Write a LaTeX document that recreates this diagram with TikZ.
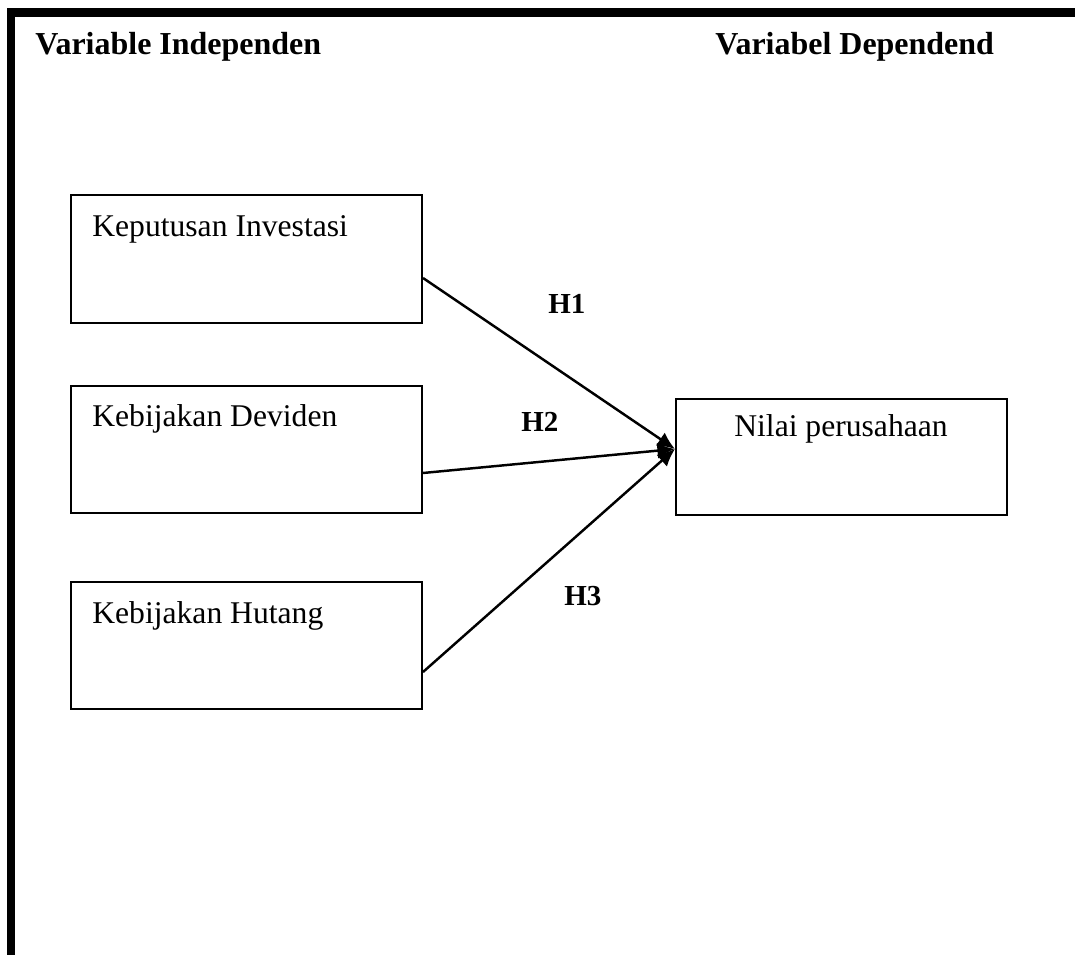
\documentclass[tikz,border=0pt]{standalone}
\usepackage{fontspec}
\setmainfont{Liberation Serif}
\usetikzlibrary{arrows.meta,calc}

\begin{document}
\begin{tikzpicture}[x=0.02cm,y=-0.02cm,>={Latex[length=10pt,width=9pt]},
                    var box/.style={rectangle,draw,line width=1.2pt,minimum width=7.02cm,minimum height=2.55cm},
                    box text/.style={anchor=base west,inner sep=0pt,font=\fontsize{18}{22}\selectfont},
                    head text/.style={anchor=base west,inner sep=0pt,font=\fontsize{18.2}{22}\selectfont\bfseries},
                    hyp/.style={anchor=base west,inner sep=0pt,font=\fontsize{16.5}{20}\selectfont\bfseries}]

  \useasboundingbox (0,0) rectangle (1075,955);

  % frame (top and left only)
  \draw[line width=4.8pt] (11,955) -- (11,12.5) -- (1075,12.5);

  \node[head text] (indep) at (35,55) {Variable Independen};
  \node[head text] (dep) at (715,55) {Variabel Dependend};

  \node[var box] (k1) at (246.5,259) {};
  \node[var box] (k2) at (246.5,449.5) {};
  \node[var box] (k3) at (246.5,645.5) {};
  \node[var box,minimum width=6.62cm,minimum height=2.32cm] (nilai) at (841.5,457) {};

  \node[box text] (t1) at ($(k1.north west)+(22,42)$) {Keputusan Investasi};
  \node[box text] (t2) at ($(k2.north west)+(22,42)$) {Kebijakan Deviden};
  \node[box text] (t3) at ($(k3.north west)+(22,43)$) {Kebijakan Hutang};
  \node[box text] (t4) at ($(nilai.north west)+(59,39)$) {Nilai perusahaan};

  \path[->,line width=1.4pt]
    ($(k1.east)+(0,19)$) edge ($(nilai.west)+(0,-8)$)
    ($(k2.east)+(0,23.5)$) edge ($(nilai.west)+(0,-8)$)
    ($(k3.east)+(0,26.5)$) edge ($(nilai.west)+(0,-8)$);

  \node[hyp] (h1) at (548,314) {H1};
  \node[hyp] (h2) at (521,432) {H2};
  \node[hyp] (h3) at (564,606) {H3};
\end{tikzpicture}
\end{document}
